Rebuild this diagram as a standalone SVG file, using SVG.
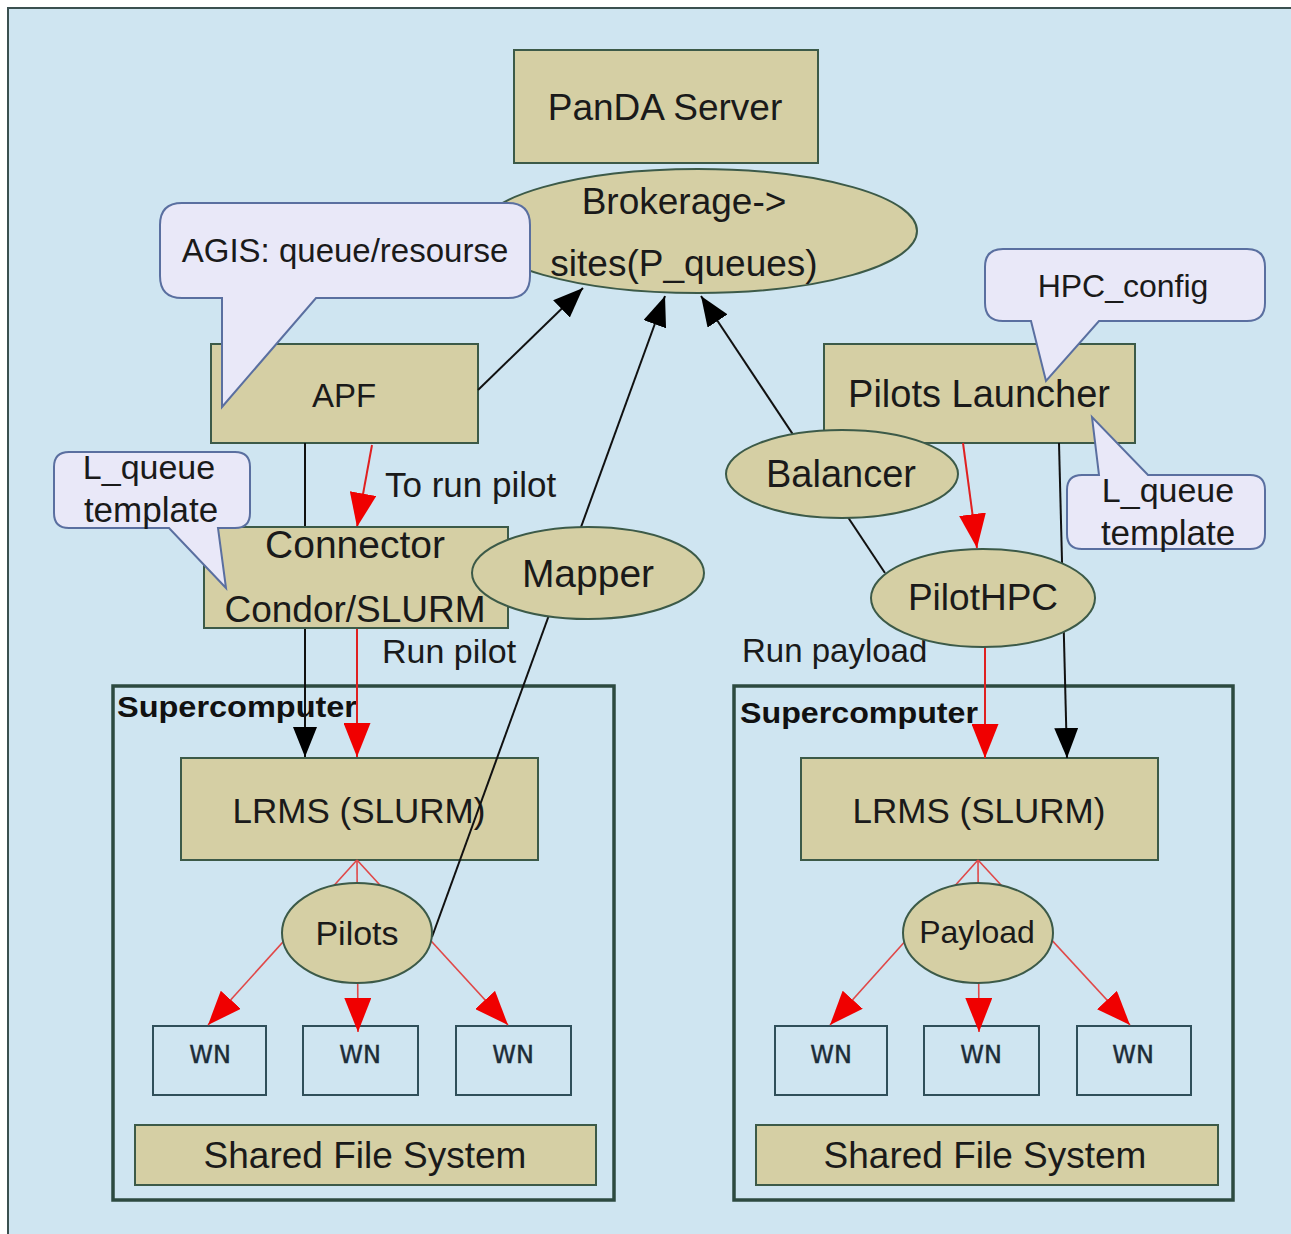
<svg xmlns="http://www.w3.org/2000/svg" width="1291" height="1234" viewBox="0 0 1291 1234">
<defs>
<style>
.bg{fill:#cfe5f1;stroke:#3a5050;stroke-width:2}
.box{fill:#d5cfa4;stroke:#3c5a48;stroke-width:2}
.call{fill:#e9e8f8;stroke:#5a6fa0;stroke-width:2}
.frame{fill:none;stroke:#2d4a40;stroke-width:3.5}
.wn{fill:none;stroke:#2f4f5a;stroke-width:2}
.t{font-family:"Liberation Sans",Arial,sans-serif;fill:#1a1a1a;text-anchor:middle}
.tl{font-family:"Liberation Sans",Arial,sans-serif;fill:#1a1a1a}
.sc{font-family:"Liberation Sans",Arial,sans-serif;font-weight:bold;font-size:29px;fill:#111}
.wnt{font-family:"DejaVu Sans",Verdana,sans-serif;font-size:24px;fill:#1c2c38;text-anchor:middle;stroke:#1c2c38;stroke-width:0.4}
.bl{stroke:#111;stroke-width:2;fill:none}
.rd{stroke:#e02020;stroke-width:2;fill:none}
.rdt{stroke:#e04848;stroke-width:1.6;fill:none}
</style>
<marker id="ab" markerUnits="userSpaceOnUse" markerWidth="30" markerHeight="24" refX="30" refY="12" orient="auto"><path d="M0,0 L30,12 L0,24 z" fill="#000"/></marker>
<marker id="ar" markerUnits="userSpaceOnUse" markerWidth="34" markerHeight="27" refX="34" refY="13.5" orient="auto"><path d="M0,0 L34,13.5 L0,27 z" fill="#f00000"/></marker>
</defs>
<rect x="0" y="0" width="1291" height="1234" fill="#ffffff"/>
<rect class="bg" x="8" y="8" width="1300" height="1250"/>

<g id="super-left">
<rect class="frame" x="113" y="686" width="501" height="514"/>
<text class="sc" x="117" y="717" textLength="240" lengthAdjust="spacingAndGlyphs">Supercomputer</text>
</g>
<g id="super-right">
<rect class="frame" x="734" y="686" width="499" height="514"/>
<text class="sc" x="740" y="723" textLength="238" lengthAdjust="spacingAndGlyphs">Supercomputer</text>
</g>
<g id="lrms-left"><rect class="box" x="181" y="758" width="357" height="102"/><text class="t" x="359" y="823" font-size="35">LRMS (SLURM)</text></g>
<g id="lrms-right"><rect class="box" x="801" y="758" width="357" height="102"/><text class="t" x="979" y="823" font-size="35">LRMS (SLURM)</text></g>
<g id="wn-l1"><rect class="wn" x="153" y="1026" width="113" height="69"/><text class="wnt" x="210" y="1063">WN</text></g>
<g id="wn-l2"><rect class="wn" x="303" y="1026" width="115" height="69"/><text class="wnt" x="360" y="1063">WN</text></g>
<g id="wn-l3"><rect class="wn" x="456" y="1026" width="115" height="69"/><text class="wnt" x="513" y="1063">WN</text></g>
<g id="wn-r1"><rect class="wn" x="775" y="1026" width="112" height="69"/><text class="wnt" x="831" y="1063">WN</text></g>
<g id="wn-r2"><rect class="wn" x="924" y="1026" width="115" height="69"/><text class="wnt" x="981" y="1063">WN</text></g>
<g id="wn-r3"><rect class="wn" x="1077" y="1026" width="114" height="69"/><text class="wnt" x="1133" y="1063">WN</text></g>
<g id="sfs-left"><rect class="box" x="135" y="1125" width="461" height="60"/><text class="t" x="365" y="1168" font-size="37">Shared File System</text></g>
<g id="sfs-right"><rect class="box" x="756" y="1125" width="462" height="60"/><text class="t" x="985" y="1168" font-size="37">Shared File System</text></g>
<g id="panda-server"><rect class="box" x="514" y="50" width="304" height="113"/><text class="t" x="665" y="120" font-size="37">PanDA Server</text></g>
<g id="apf"><rect class="box" x="211" y="344" width="267" height="99"/><text class="t" x="344" y="407" font-size="33">APF</text></g>
<g id="pilots-launcher"><rect class="box" x="824" y="344" width="311" height="99"/><text class="t" x="979" y="407" font-size="38">Pilots Launcher</text></g>

<g id="connectors">
<line class="bl" x1="478" y1="390" x2="583" y2="288" marker-end="url(#ab)"/>
<line class="bl" x1="432" y1="937" x2="665" y2="296" marker-end="url(#ab)"/>
<line class="bl" x1="885" y1="573" x2="701" y2="296" marker-end="url(#ab)"/>
<line class="bl" x1="305" y1="443" x2="305" y2="757" marker-end="url(#ab)"/>
<line class="rd" x1="372" y1="445" x2="357" y2="527" marker-end="url(#ar)"/>
<line class="rd" x1="357" y1="628" x2="357" y2="757" marker-end="url(#ar)"/>
<line class="rd" x1="963" y1="443" x2="977" y2="548" marker-end="url(#ar)"/>
<line class="bl" x1="1059" y1="443" x2="1067" y2="758" marker-end="url(#ab)"/>
<line class="rd" x1="985" y1="647" x2="985" y2="758" marker-end="url(#ar)"/>
<line class="rdt" x1="357" y1="860" x2="208" y2="1025" marker-end="url(#ar)"/>
<line class="rdt" x1="357" y1="860" x2="358" y2="1032" marker-end="url(#ar)"/>
<line class="rdt" x1="357" y1="860" x2="508" y2="1025" marker-end="url(#ar)"/>
<line class="rdt" x1="978" y1="860" x2="830" y2="1025" marker-end="url(#ar)"/>
<line class="rdt" x1="978" y1="860" x2="979" y2="1032" marker-end="url(#ar)"/>
<line class="rdt" x1="978" y1="860" x2="1130" y2="1025" marker-end="url(#ar)"/>
<text class="tl" x="385" y="497" font-size="35">To run pilot</text>
<text class="tl" x="382" y="663" font-size="34">Run pilot</text>
<text class="tl" x="742" y="662" font-size="33">Run payload</text>
</g>

<g id="brokerage"><ellipse class="box" cx="698" cy="231" rx="219" ry="62"/><text class="t" x="684" y="214" font-size="37">Brokerage-&gt;</text><text class="t" x="684" y="276" font-size="37">sites(P_queues)</text></g>
<g id="agis"><path class="call" d="M182,203 H508 Q530,203 530,225 V276 Q530,298 508,298 H316 L222,407 L222,298 H182 Q160,298 160,276 V225 Q160,203 182,203 Z"/><text class="t" x="345" y="262" font-size="33">AGIS: queue/resourse</text></g>
<g id="connector"><rect class="box" x="204" y="527" width="304" height="101"/><text class="t" x="355" y="558" font-size="39">Connector</text><text class="t" x="355" y="622" font-size="37">Condor/SLURM</text></g>
<g id="lqueue-left"><path class="call" d="M69,452 H235 Q250,452 250,467 V513 Q250,528 235,528 H218 L226,588 L169,528 H69 Q54,528 54,513 V467 Q54,452 69,452 Z"/><text class="t" x="149" y="479" font-size="34">L_queue</text><text class="t" x="151" y="522" font-size="35">template</text></g>
<g id="mapper"><ellipse class="box" cx="588" cy="573" rx="116" ry="46"/><text class="t" x="588" y="587" font-size="39">Mapper</text></g>
<g id="balancer"><ellipse class="box" cx="842" cy="474" rx="116" ry="44"/><text class="t" x="841" y="487" font-size="38">Balancer</text></g>
<g id="hpc-config"><path class="call" d="M1003,249 H1247 Q1265,249 1265,267 V303 Q1265,321 1247,321 H1099 L1046,381 L1031,321 H1003 Q985,321 985,303 V267 Q985,249 1003,249 Z"/><text class="t" x="1123" y="297" font-size="32">HPC_config</text></g>
<g id="lqueue-right"><path class="call" d="M1082,475 H1099 L1092,417 L1148,475 H1250 Q1265,475 1265,490 V534 Q1265,549 1250,549 H1082 Q1067,549 1067,534 V490 Q1067,475 1082,475 Z"/><text class="t" x="1168" y="502" font-size="34">L_queue</text><text class="t" x="1168" y="545" font-size="35">template</text></g>
<g id="pilothpc"><ellipse class="box" cx="983" cy="598" rx="112" ry="49"/><text class="t" x="983" y="610" font-size="37">PilotHPC</text></g>
<g id="pilots"><ellipse class="box" cx="357" cy="933" rx="75" ry="50"/><text class="t" x="357" y="945" font-size="34">Pilots</text></g>
<g id="payload"><ellipse class="box" cx="978" cy="933" rx="75" ry="50"/><text class="t" x="977" y="943" font-size="32">Payload</text></g>
</svg>
